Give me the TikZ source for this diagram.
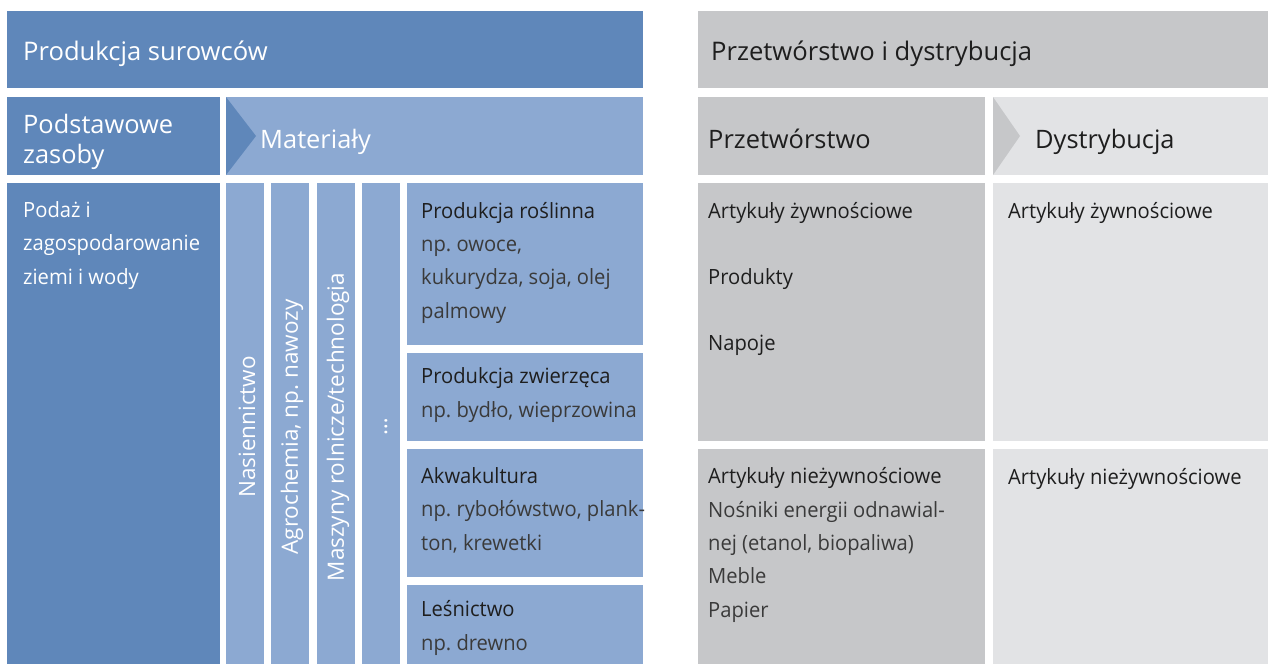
\documentclass[tikz,border=0pt]{standalone}
\usepackage{fontspec}
\setmainfont{Open Sans}
\newfontfamily\waski{Open Sans}[FakeStretch=0.96]
\usetikzlibrary{positioning}
\frenchspacing

\definecolor{ciemnyniebieski}{HTML}{5F87BA}
\definecolor{jasnyniebieski}{HTML}{8CA9D2}
\definecolor{ciemnyszary}{HTML}{C6C7C9}
\definecolor{jasnyszary}{HTML}{E2E3E5}
\definecolor{tekst}{HTML}{1E1E1E}
\definecolor{tekstjasny}{HTML}{3A3A3A}

\newcommand{\duzy}{\fontsize{25.6}{31}\selectfont}
\newcommand{\sredni}{\fontsize{25.4}{30}\selectfont}
\newcommand{\maly}{\waski\fontsize{21}{33.3}\selectfont}
\newcommand{\pion}{\fontsize{22.5}{27}\selectfont}

\tikzset{
  naglowek/.style={anchor=base west, inner sep=0pt, text=white, font=\duzy},
  bialy/.style={anchor=base west, inner sep=0pt, text=white, font=\maly, align=left},
  czarny/.style={anchor=base west, inner sep=0pt, text=tekst, font=\maly, align=left},
  pionowy/.style={rotate=90, inner sep=0pt, text=white, font=\pion},
}

\begin{document}
\begin{tikzpicture}[x=1pt, y=-1pt]
        \useasboundingbox (0,0) rectangle (1268,664);
        % produkcja surowcow
        \fill[ciemnyniebieski] (7,11) rectangle (643,88);
        \fill[ciemnyniebieski] (7,97) rectangle (220,175);
        \fill[jasnyniebieski] (226,97) rectangle (643,175);
        \fill[ciemnyniebieski] (226,97) -- (256,136) -- (226,175) -- cycle;
        \fill[ciemnyniebieski] (7,183) rectangle (220,664);
        \foreach \xa/\xb in {226/264, 271/309, 317/355, 362/400}
          \fill[jasnyniebieski] (\xa,183) rectangle (\xb,664);
        \fill[jasnyniebieski] (407,183) rectangle (643,345);
        \fill[jasnyniebieski] (407,353) rectangle (643,441);
        \fill[jasnyniebieski] (407,449) rectangle (643,577);
        \fill[jasnyniebieski] (407,585) rectangle (643,664);
        % przetworstwo i dystrybucja
        \fill[ciemnyszary] (698,11) rectangle (1268,88);
        \fill[ciemnyszary] (698,97) rectangle (985,175);
        \fill[jasnyszary] (993,97) rectangle (1268,175);
        \fill[ciemnyszary] (993,97) -- (1020,136) -- (993,175) -- cycle;
        \fill[ciemnyszary] (698,183) rectangle (985,441);
        \fill[jasnyszary] (993,183) rectangle (1268,441);
        \fill[ciemnyszary] (698,449) rectangle (985,664);
        \fill[jasnyszary] (993,449) rectangle (1268,664);

        % teksty (punkt = linia bazowa ostatniego wiersza)
        \node[naglowek] (surowce) at (23,60) {Produkcja surowców};
        \node[naglowek, font=\sredni, align=left] (zasoby) at (23,163) {Podstawowe\\zasoby};
        \node[naglowek, font=\sredni] (materialy) at (260,148) {Materiały};
        \node[bialy] (podaz) at (23,284) {Podaż i\\zagospodarowanie\\ziemi i wody};

        \node[pionowy] (nasiona) at (247,427) {Nasiennictwo};
        \node[pionowy] (agro) at (292,427) {Agrochemia, np. nawozy};
        \node[pionowy] (maszyny) at (338,427) {Maszyny rolnicze/technologia};
        \node[pionowy] (inne) at (386,427) {\dots};

        \node[czarny] (roslinna) at (421,318) {Produkcja roślinna\\\color{tekstjasny}np. owoce,\\\color{tekstjasny}kukurydza, soja, olej\\\color{tekstjasny}palmowy};
        \node[czarny] (zwierzeca) at (421,417) {Produkcja zwierzęca\\\color{tekstjasny}np. bydło, wieprzowina};
        \node[czarny] (akwa) at (421,550) {Akwakultura\\\color{tekstjasny}np. rybołówstwo, plank-\\\color{tekstjasny}ton, krewetki};
        \node[czarny] (las) at (421,650) {Leśnictwo\\\color{tekstjasny}np. drewno};

        \node[naglowek, text=tekst] (dystrybucja) at (711,60) {Przetwórstwo i dystrybucja};
        \node[naglowek, text=tekst, font=\sredni] (przetw) at (708,148) {Przetwórstwo};
        \node[naglowek, text=tekst, font=\sredni] (dystr) at (1035,148) {Dystrybucja};

        \node[czarny] (zywnosc) at (708,218) {Artykuły żywnościowe};
        \node[czarny] (produkty) at (708,284) {Produkty};
        \node[czarny] (napoje) at (708,350) {Napoje};
        \node[czarny] (niezyw) at (708,617) {Artykuły nieżywnościowe\\\color{tekstjasny}Nośniki energii odnawial-\\\color{tekstjasny}nej (etanol, biopaliwa)\\\color{tekstjasny}Meble\\\color{tekstjasny}Papier};
        \node[czarny] (zywnosc2) at (1008,218) {Artykuły żywnościowe};
        \node[czarny] (niezyw2) at (1008,484) {Artykuły nieżywnościowe};
\end{tikzpicture}
\end{document}
